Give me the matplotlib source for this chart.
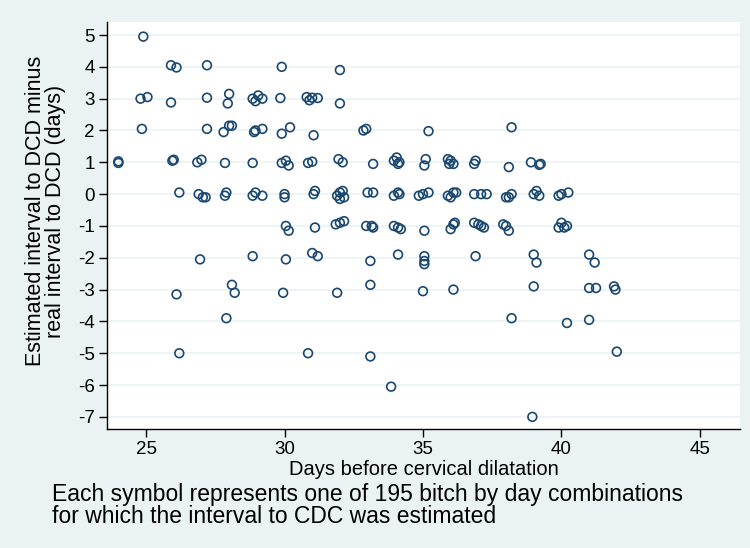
import matplotlib
matplotlib.use("Agg")
import matplotlib.pyplot as plt
import numpy as np

plt.rcParams['font.family'] = ['Liberation Sans', 'DejaVu Sans']

# days before cervical dilatation (x) and estimation error (y)
days = [
    24.9,
    25.9, 26.1, 27.2, 29.9, 32.0,
    24.8, 25.05, 25.9, 27.2, 28.0, 27.95, 28.85, 28.95, 29.05, 29.2, 29.85,
    30.8, 30.9, 31.0, 31.2, 32.0,
    24.85, 27.2, 27.8, 28.0, 28.1, 28.9, 28.95, 29.2, 29.9, 30.2, 31.05,
    32.85, 32.95, 35.2, 38.2,
    24.0, 24.0, 25.95, 26.0, 26.85, 27.0, 27.85, 28.85, 29.9, 30.05, 30.15,
    30.85, 31.0, 31.95, 32.1, 33.2, 33.95, 34.05, 34.15, 34.1, 35.1, 35.05,
    35.9, 36.0, 36.1, 35.95, 36.9, 36.85, 38.1, 38.9, 39.2, 39.25,
    26.2, 26.9, 27.05, 27.15, 27.9, 27.85, 28.85, 28.95, 29.2, 30.0, 30.0,
    31.1, 31.05, 31.9, 32.0, 32.1, 32.15, 32.0, 33.0, 33.2, 33.95, 34.1,
    34.15, 34.85, 35.0, 35.2, 35.9, 36.1, 36.2, 36.0, 36.85, 37.1, 37.3,
    38.0, 38.2, 38.1, 39.0, 39.1, 39.2, 39.9, 40.0, 40.25,
    30.05, 30.15, 31.1, 31.85, 32.0, 32.15, 32.95, 33.15, 33.2, 33.95, 34.1,
    34.2, 35.05, 36.0, 36.1, 36.15, 36.85, 37.0, 37.1, 37.2, 37.9, 38.0,
    38.1, 39.9, 40.0, 40.1, 40.2,
    26.95, 28.85, 30.05, 31.0, 31.2, 33.1, 34.1, 35.05, 35.05, 35.05, 36.9,
    39.0, 39.1, 41.0, 41.2,
    26.1, 28.1, 28.2, 29.95, 31.9, 33.1, 35.0, 36.1, 39.0, 41.0, 41.25,
    41.9, 41.95,
    27.9, 38.2, 40.2, 41.0,
    26.2, 30.85, 33.1, 42.0,
    33.85,
    38.95,
]
error = [
    4.95,
    4.05, 3.98, 4.05, 4.0, 3.9,
    3.0, 3.05, 2.88, 3.03, 3.15, 2.85, 3.0, 2.92, 3.1, 3.0, 3.02,
    3.05, 2.95, 3.03, 3.02, 2.85,
    2.05, 2.05, 1.95, 2.15, 2.15, 1.95, 2.0, 2.05, 1.9, 2.1, 1.85,
    2.0, 2.05, 1.98, 2.1,
    1.03, 0.98, 1.05, 1.08, 1.0, 1.08, 0.98, 0.98, 0.98, 1.05, 0.9,
    0.98, 1.02, 1.1, 1.0, 0.95, 1.05, 1.15, 1.0, 0.95, 1.1, 0.9,
    1.1, 1.05, 0.95, 0.95, 1.05, 0.95, 0.85, 1.0, 0.92, 0.95,
    0.05, 0.0, -0.1, -0.1, 0.05, -0.05, -0.05, 0.05, -0.05, 0.0, -0.1,
    0.1, 0.0, -0.05, 0.05, 0.1, -0.1, -0.15, 0.05, 0.05, -0.05, 0.05,
    0.0, -0.05, 0.0, 0.05, -0.05, 0.05, 0.05, -0.1, 0.0, 0.0, 0.0,
    -0.1, 0.0, -0.1, 0.0, 0.1, -0.05, -0.05, 0.0, 0.05,
    -1.0, -1.15, -1.05, -0.95, -0.9, -0.85, -1.0, -1.0, -1.05, -1.0, -1.05,
    -1.1, -1.15, -1.1, -0.95, -0.9, -0.9, -0.95, -1.0, -1.05, -0.95, -1.0,
    -1.15, -1.05, -0.9, -1.05, -1.0,
    -2.05, -1.95, -2.05, -1.85, -1.95, -2.1, -1.9, -1.95, -2.1, -2.2, -1.95,
    -1.9, -2.15, -1.9, -2.15,
    -3.15, -2.85, -3.1, -3.1, -3.1, -2.85, -3.05, -3.0, -2.9, -2.95, -2.95,
    -2.9, -3.0,
    -3.9, -3.9, -4.05, -3.95,
    -5.0, -5.0, -5.1, -4.95,
    -6.05,
    -7.0,
]

xticks = [25, 30, 35, 40, 45]
yticks = list(range(5, -8, -1))

outer = '#eaf2f3'
navy = '#1a476f'

fig = plt.figure(figsize=(7.5, 5.48), dpi=100, facecolor=outer)
ax = fig.add_axes([0.1427, 0.2172, 0.844, 0.7427])
ax.set_facecolor('white')

for yv in yticks:
    ax.axhline(yv, color=outer, lw=1.2, zorder=0)

ax.scatter(days, error, s=40, facecolors='none', edgecolors=navy,
           linewidths=1.2, zorder=3)

ax.set_xlim(23.59, 46.45)
ax.set_ylim(-7.38, 5.41)
ax.set_xticks(xticks)
ax.set_yticks(yticks)
ax.set_yticklabels([str(v) for v in yticks])
ax.tick_params(axis='both', labelsize=13.5, length=6, width=1, color='black',
               direction='out', pad=3)

for side in ['top', 'right']:
    ax.spines[side].set_visible(False)
for side in ['left', 'bottom']:
    ax.spines[side].set_color('black')
    ax.spines[side].set_linewidth(1.0)

ax.set_xlabel('Days before cervical dilatation', fontsize=14.5, labelpad=1)
fig.text(0.061, 0.615, 'Estimated interval to DCD minus\nreal interval to DCD (days)',
         rotation=90, ha='center', va='center', fontsize=15.5, linespacing=0.95)

fig.text(0.069, 0.118, 'Each symbol represents one of 195 bitch by day combinations\n'
         'for which the interval to CDC was estimated',
         ha='left', va='top', fontsize=16.5, linespacing=0.95)

fig.savefig('out.png', dpi=100, facecolor=outer)
